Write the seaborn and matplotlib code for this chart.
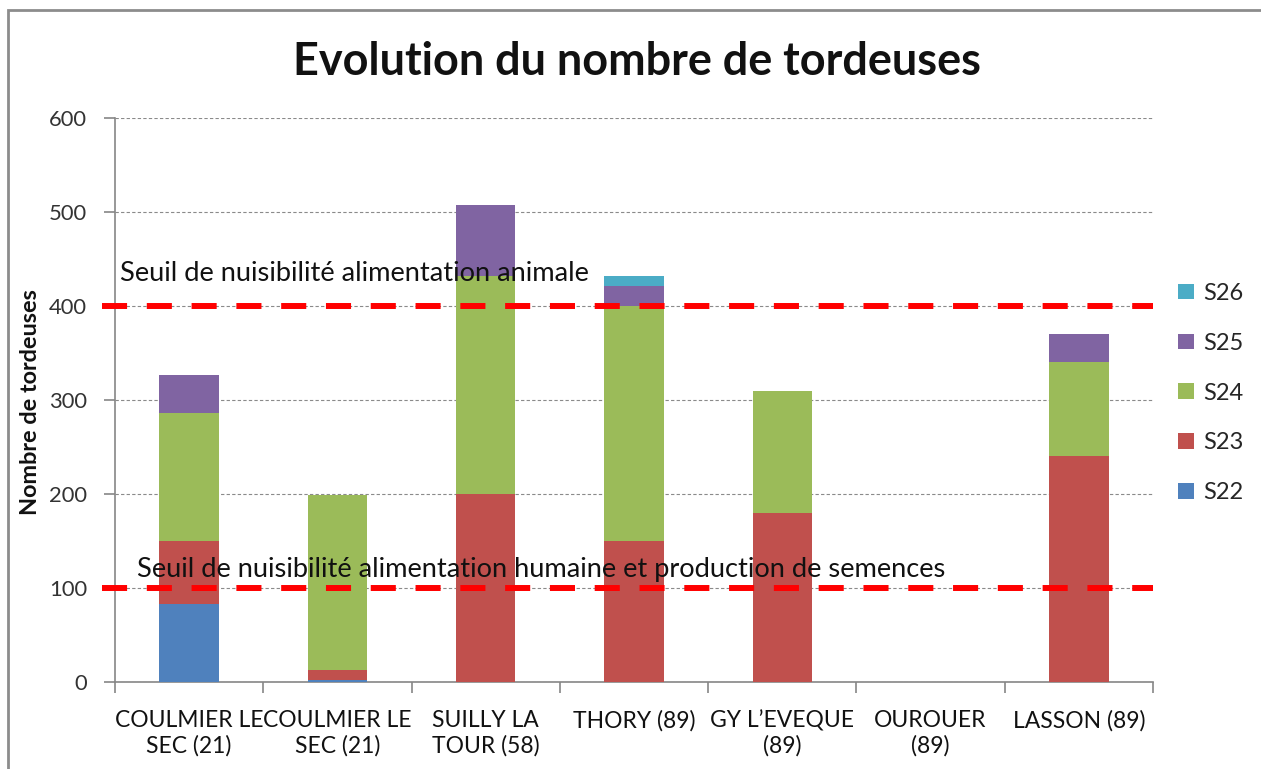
import numpy as np
import pandas as pd
import seaborn as sns
import matplotlib.pyplot as plt
from matplotlib.patches import Patch, Rectangle

# data
sites = ["COULMIER LE\nSEC (21)", "COULMIER LE\nSEC (21)", "SUILLY LA\nTOUR (58)",
         "THORY (89)", "GY L\u2019EVEQUE\n(89)", "OUROUER\n(89)", "LASSON (89)"]
s22 = [83, 2, 0, 0, 0, 0, 0]
s23 = [67, 11, 200, 150, 180, 0, 240]
s24 = [136, 186, 232, 250, 130, 0, 100]
s25 = [41, 0, 75, 21, 0, 0, 30]
s26 = [0, 0, 0, 11, 0, 0, 0]
series = ["S22", "S23", "S24", "S25", "S26"]
seuil_animal = 400
seuil_humain = 100

colors = {"S22": "#4F81BD", "S23": "#C0504D", "S24": "#9BBB59",
          "S25": "#8064A2", "S26": "#4BACC6"}

sns.set_theme(style="white")
plt.rcParams['font.family'] = ['Lato', 'DejaVu Sans']

df = pd.DataFrame({"pos": np.arange(len(sites)), "S22": s22, "S23": s23,
                   "S24": s24, "S25": s25, "S26": s26})
cum = df[series].cumsum(axis=1)

fig = plt.figure(figsize=(12.61, 7.69), dpi=100)
ax = fig.add_axes([115 / 1261, 1 - 682 / 769, 1038 / 1261, 564 / 769])

# stacked bars: draw running totals from the top series down
for name in reversed(series):
    sns.barplot(x=df["pos"], y=cum[name], color=colors[name], width=0.4,
                saturation=1, linewidth=0, ax=ax, zorder=3)

ax.set_xlim(-0.5, len(sites) - 0.5)
ax.set_ylim(0, 600)
ax.set_yticks(range(0, 601, 100))
ax.yaxis.grid(True, color="#8a8a8a", linestyle=(0, (3, 2)), linewidth=0.8, zorder=0)
ax.set_axisbelow(True)

# threshold lines
for val in [seuil_animal, seuil_humain]:
    ax.plot([-0.59, len(sites) - 0.5], [val, val], color="#FF0000", lw=4.3,
            linestyle=(0, (4.2, 3.3)), zorder=5, clip_on=False,
            solid_capstyle="butt", dash_capstyle="butt")
ax.text(-0.466, 435, "Seuil de nuisibilité alimentation animale",
        fontsize=19.6, va="center", ha="left", color="#111111", zorder=6)
ax.text(-0.352, 120, "Seuil de nuisibilité alimentation humaine et production de semences",
        fontsize=19.6, va="center", ha="left", color="#111111", zorder=6)

for side in ["top", "right"]:
    ax.spines[side].set_visible(False)
for side in ["left", "bottom"]:
    ax.spines[side].set_color("#868686")
    ax.spines[side].set_linewidth(1.2)

ax.set_xticks(np.arange(len(sites)))
ax.set_xticklabels(sites, fontsize=16.5, color="#111111", linespacing=1.22)
ax.set_xticks(np.arange(-0.5, len(sites)), minor=True)
ax.tick_params(axis="x", which="major", length=0, pad=20)
ax.tick_params(axis="x", which="minor", length=8, color="#868686", width=1.2, bottom=True)
ax.tick_params(axis="y", length=8, color="#868686", width=1.2, labelsize=15.8,
               labelcolor="#333333", pad=12, left=True)
ax.set_xlabel("")
ax.set_ylabel("Nombre de tordeuses", fontsize=16.9, fontweight="bold", color="#111111")
ax.yaxis.set_label_coords(-0.071, 0.496)

fig.text(0.505, 1 - 62 / 769, "Evolution du nombre de tordeuses", fontsize=32.4,
         fontweight="bold", ha="center", va="center", color="#111111")

handles = [Patch(facecolor=colors[s], edgecolor="none") for s in reversed(series)]
fig.legend(handles, list(reversed(series)), loc="center left",
           bbox_to_anchor=(1157 / 1261, 1 - 393 / 769), frameon=False,
           fontsize=17, handlelength=0.65, handleheight=0.65, handletextpad=0.4,
           labelspacing=1.22)

fig.patches.append(Rectangle((8 / 1261, -0.1), 1.5, 1.1 - 10 / 769, fill=False,
                             edgecolor="#8c8c8c", lw=2, transform=fig.transFigure))

fig.savefig("out.png", dpi=100)
